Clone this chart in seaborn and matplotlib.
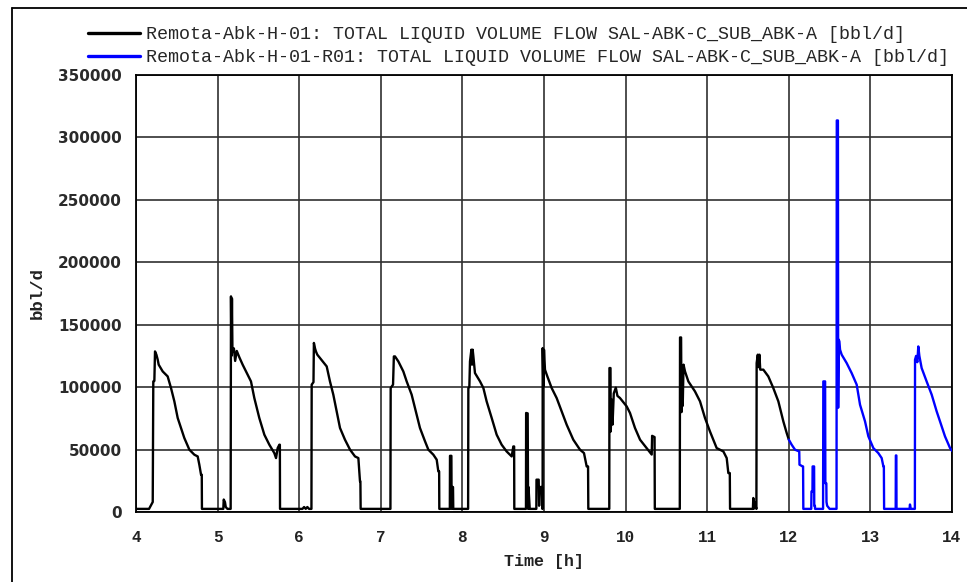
import numpy as np
import pandas as pd
import matplotlib
matplotlib.use("Agg")
import matplotlib.pyplot as plt
from matplotlib.lines import Line2D
import seaborn as sns

# ---------------- data (time in h, flow in thousand bbl/d) ----------------
t_black = [4.00, 4.16, 4.18, 4.205, 4.212, 4.225, 4.233, 4.25, 4.266, 4.278, 4.327, 4.388, 4.429,
           4.47, 4.511, 4.551, 4.592, 4.654, 4.715, 4.756, 4.776, 4.797, 4.806, 4.808,
           5.07, 5.075, 5.09, 5.10, 5.12, 5.160, 5.164, 5.170, 5.176, 5.182, 5.20, 5.215, 5.235,
           5.266, 5.307, 5.409, 5.45, 5.511, 5.573, 5.634, 5.695, 5.716, 5.736, 5.757, 5.763, 5.765,
           6.04, 6.06, 6.08, 6.10, 6.12, 6.150, 6.153, 6.175, 6.18, 6.194, 6.205, 6.222, 6.255,
           6.337, 6.377, 6.418, 6.459, 6.50, 6.561, 6.623, 6.684, 6.725, 6.745, 6.75, 6.753,
           7.118, 7.121, 7.15, 7.16, 7.174, 7.215, 7.276, 7.317, 7.378, 7.419, 7.48, 7.542, 7.583,
           7.644, 7.685, 7.705, 7.715, 7.717,
           7.846, 7.848, 7.865, 7.868, 7.870, 7.885, 7.888,
           8.07, 8.073, 8.085, 8.093, 8.11, 8.118, 8.126, 8.134, 8.154, 8.216, 8.257, 8.297, 8.359,
           8.42, 8.481, 8.542, 8.604, 8.624, 8.634, 8.636,
           8.779, 8.781, 8.80, 8.805, 8.81, 8.825, 8.828,
           8.906, 8.908, 8.935, 8.94, 8.95, 8.975, 8.98,
           8.983, 8.984, 8.992, 9.0, 9.012, 9.041, 9.094, 9.155, 9.217, 9.278, 9.359, 9.441, 9.49,
           9.523, 9.54, 9.543,
           9.80, 9.802, 9.815, 9.818, 9.83, 9.84, 9.855, 9.88, 9.90, 9.931, 10.013, 10.054, 10.115,
           10.177, 10.258, 10.32, 10.325, 10.355, 10.358,
           10.664, 10.667, 10.68, 10.685, 10.69, 10.70, 10.71, 10.728, 10.769, 10.85, 10.912, 10.973,
           11.034, 11.116, 11.198, 11.239, 11.259, 11.277, 11.28,
           11.56, 11.565, 11.57, 11.58, 11.603, 11.606, 11.62, 11.628, 11.64, 11.65, 11.688, 11.749,
           11.81, 11.872, 11.933, 11.974, 12.0]
q_black = [2.5, 2.5, 5, 8, 104.6, 105, 128.6, 126, 122, 118, 112.6, 108.6, 99.3,
           88.6, 75.3, 67.3, 59.3, 49.9, 45.9, 44.5, 37.9, 29.9, 29.9, 2.5,
           2.5, 10, 8, 4, 2.5, 2.5, 172.7, 125, 171, 128, 131, 121, 129,
           124, 118, 104.6, 91.3, 75.3, 61.9, 53.9, 47.2, 43.2, 51.2, 53.9, 53.9, 2.5,
           2.5, 4, 2.5, 4, 2.5, 2.5, 102, 104, 135.4, 131, 128.6, 126, 123.3,
           116.6, 104.6, 94, 80.6, 67.3, 57.9, 49.9, 44.5, 43.2, 24.5, 24.5, 2.5,
           2.5, 99.3, 102, 124.6, 124.6, 120.6, 112.6, 104.6, 94, 83.3, 67.3, 56.6, 49.9,
           45.9, 41.9, 32.5, 32.5, 2.5,
           2.5, 45, 45, 2.5, 20, 20, 2.5,
           2.5, 99.3, 100, 120.6, 130, 118, 130, 125, 111.3, 104.6, 99.3, 88.6, 75.3,
           61.9, 53.9, 48.5, 44.5, 52.5, 52.5, 2.5,
           2.5, 79.3, 79, 2.5, 20, 2.5, 2.5,
           2.5, 25.9, 25.9, 5, 20, 20, 2.5,
           2.5, 131.3, 100, 130, 114, 108.6, 99.3, 91.3, 80.6, 69.9, 57.9, 49.9, 47.2,
           36.5, 36.5, 2.5,
           2.5, 115.3, 115.3, 64.5, 90, 70, 95, 99.6, 93, 91.3, 84.6, 79.3, 67.3,
           57.9, 51.2, 46, 61, 60, 2.5,
           2.5, 139.8, 139.8, 80, 115, 85, 118, 112.6, 104.6, 96.6, 88.6, 75.3,
           64.5, 51.2, 48.5, 43.2, 31.2, 31.2, 2.5,
           2.5, 11.2, 2.5, 8, 2.5, 119.3, 126, 116, 126, 114, 114, 108.6,
           99.3, 88.6, 72.6, 63.3, 58]

t_blue = [12.0, 12.035, 12.076, 12.128, 12.131, 12.17, 12.175, 12.178,
          12.275, 12.278, 12.29, 12.292, 12.31, 12.312, 12.32, 12.322,
          12.42, 12.423, 12.445, 12.448, 12.46, 12.462, 12.47, 12.5,
          12.585, 12.588, 12.602, 12.605, 12.612, 12.62, 12.628, 12.648, 12.709, 12.77, 12.832,
          12.873, 12.934, 12.975, 13.036, 13.097, 13.138, 13.159, 13.165, 13.168,
          13.31, 13.312, 13.318, 13.32, 13.48, 13.485, 13.495, 13.545, 13.547, 13.56, 13.575,
          13.587, 13.60, 13.628, 13.689, 13.751, 13.812, 13.853, 13.914, 13.976, 14.0]
q_blue = [58, 53.9, 49.9, 48.5, 37.9, 36.5, 36.5, 2.5,
          2.5, 16.5, 16.5, 36.5, 36.5, 5, 5, 2.5,
          2.5, 104.6, 104.6, 23, 23, 8, 5, 2.5,
          2.5, 313.6, 313.6, 83.5, 138, 136.6, 130, 126, 119.3, 111.3, 102,
          85.9, 72.6, 60.6, 51.2, 47.2, 43.2, 36.5, 36.5, 2.5,
          2.5, 45.3, 45.3, 2.5, 2.5, 6, 2.5, 2.5, 122, 125, 120,
          132.6, 125, 115.3, 104.6, 94, 80.6, 72.6, 60.6, 51.2, 49]

label_black = "Remota-Abk-H-01: TOTAL LIQUID VOLUME FLOW SAL-ABK-C_SUB_ABK-A [bbl/d]"
label_blue = "Remota-Abk-H-01-R01: TOTAL LIQUID VOLUME FLOW SAL-ABK-C_SUB_ABK-A [bbl/d]"
x_ticks = [4, 5, 6, 7, 8, 9, 10, 11, 12, 13, 14]
y_ticks = [0, 50000, 100000, 150000, 200000, 250000, 300000, 350000]

# ---------------- plot ----------------
sns.set_style("white")
plt.rcParams['font.family'] = ['Liberation Mono', 'DejaVu Sans']

fig = plt.figure(figsize=(9.67, 5.82), dpi=100)
ax = fig.add_axes([136 / 967, 1 - 512 / 582, (952 - 136) / 967, (512 - 75) / 582])

df_black = pd.DataFrame({"t": t_black, "q": np.array(q_black) * 1000})
df_blue = pd.DataFrame({"t": t_blue, "q": np.array(q_blue) * 1000})

sns.lineplot(data=df_black, x="t", y="q", sort=False, estimator=None, color="black",
             lw=1.7, ax=ax, legend=False, zorder=3)
sns.lineplot(data=df_blue, x="t", y="q", sort=False, estimator=None, color="#0000FF",
             lw=1.7, ax=ax, legend=False, zorder=3)

ax.set_xlim(4, 14)
ax.set_ylim(0, 350000)
ax.set_xticks(x_ticks)
ax.set_yticks(y_ticks)
ax.set_xticklabels([str(v) for v in x_ticks], fontsize=11.5, fontweight='bold', color='#222222')
ax.set_yticklabels([str(v) for v in y_ticks], fontsize=11, fontweight='bold', color='#2a2a2a',
                   family=['DejaVu Sans'])
ax.grid(True, color='#303030', lw=1.2)
ax.set_axisbelow(True)
for s in ax.spines.values():
    s.set_color('black')
    s.set_linewidth(1.3)
ax.tick_params(axis='both', direction='out', length=5, width=1.2, color='black')
ax.tick_params(axis='y', pad=5)
ax.tick_params(axis='x', pad=8)

ax.set_xlabel("Time [h]", fontsize=12, fontweight='bold', color='#222222', labelpad=6)
ax.xaxis.set_label_coords(0.5, -0.095)
ax.set_ylabel("bbl/d", fontsize=12.5, fontweight='bold', color='#222222')
ax.yaxis.set_label_coords(-0.112, 0.5)

handles = [Line2D([0], [0], color='black', lw=2.4), Line2D([0], [0], color='#0000FF', lw=2.4)]
fig.legend(handles, [label_black, label_blue], loc='upper left',
           bbox_to_anchor=(88 / 967, 1 - 26 / 582), bbox_transform=fig.transFigure,
           frameon=False, borderpad=0, borderaxespad=0, handlelength=2.85,
           handletextpad=0.3, labelspacing=0.33, prop={'family': 'Liberation Mono', 'size': 13.2})

# outer frame (left and top edges visible)
fig.add_artist(Line2D([12 / 967, 12 / 967], [0, 1 - 8 / 582], color='black', lw=1.3,
                      transform=fig.transFigure))
fig.add_artist(Line2D([12 / 967, 1], [1 - 8 / 582, 1 - 8 / 582], color='black', lw=1.3,
                      transform=fig.transFigure))

fig.savefig("out.png", dpi=100, facecolor='white')
